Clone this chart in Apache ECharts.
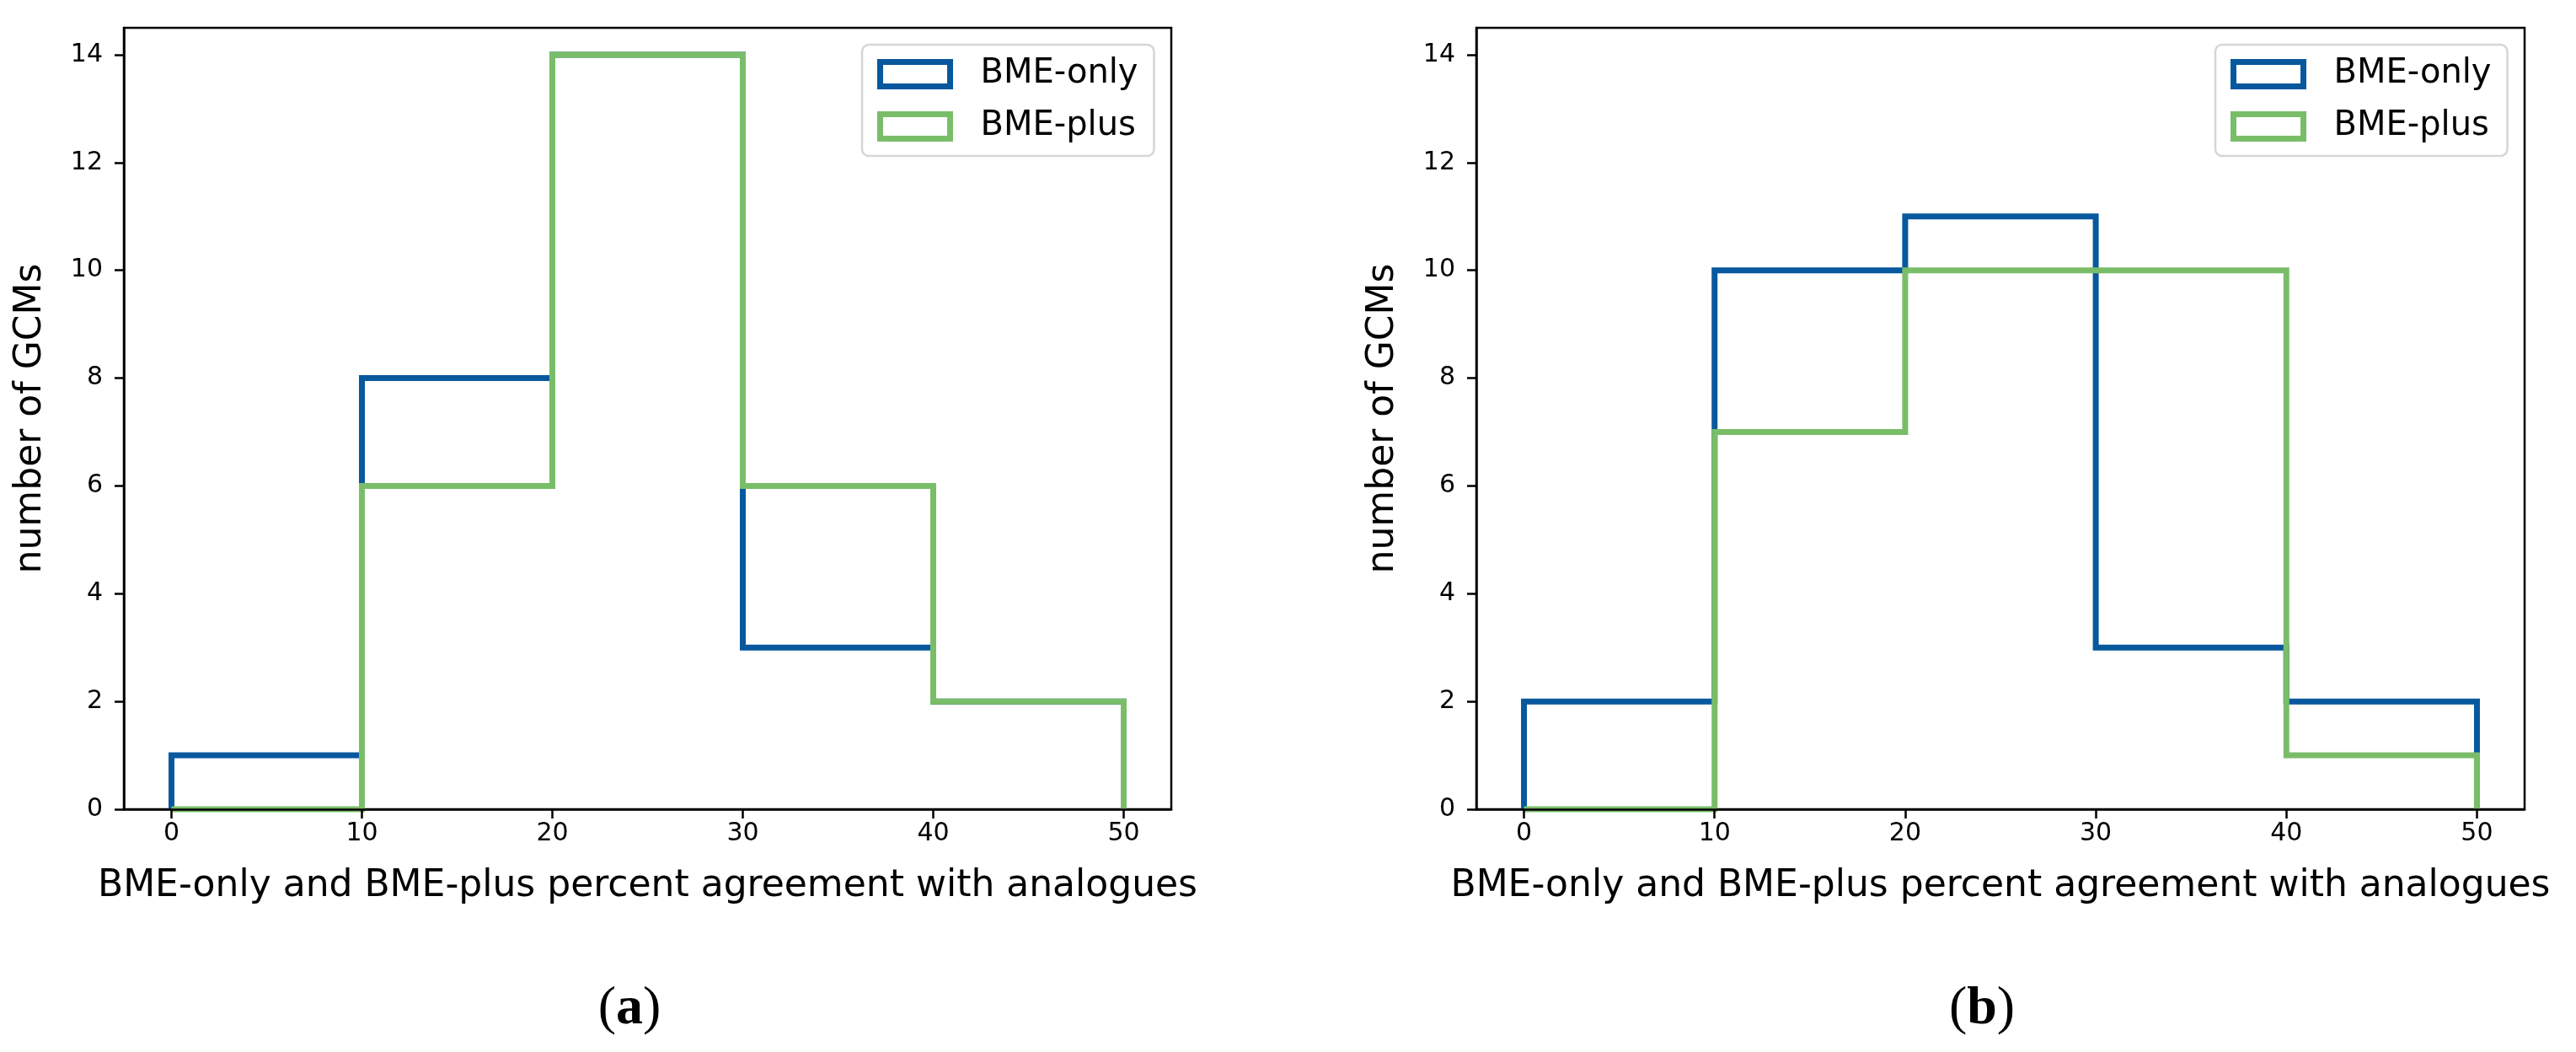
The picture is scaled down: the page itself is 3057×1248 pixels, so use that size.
<!DOCTYPE html>
<html>
<head>
<meta charset="utf-8">
<script src="https://cdn.jsdelivr.net/npm/echarts@6/dist/echarts.min.js"></script>
<style>
html,body{margin:0;padding:0;background:#fff;}
#chart{width:3057px;height:1248px;}
</style>
</head>
<body>
<div id="chart"></div>
<script>
// Histogram bin edges (percent agreement)
const binEdges = [0, 10, 20, 30, 40, 50];
// Panel (a) counts per bin
const aBmeOnly = [1, 8, 14, 3, 2];
const aBmePlus = [0, 6, 14, 6, 2];
// Panel (b) counts per bin
const bBmeOnly = [2, 10, 11, 3, 2];
const bBmePlus = [0, 7, 10, 10, 1];
// Tick labels
const xTicks = [0, 10, 20, 30, 40, 50];
const yTicks = [0, 2, 4, 6, 8, 10, 12, 14];
const seriesNames = ['BME-only', 'BME-plus'];
const panelLabels = ['a', 'b'];

const BLUE = '#08589e';
const GREEN = '#7abd69';
const FONT = 'DejaVu Sans';

// step-histogram outline built from bin edges and counts
function stepOutline(edges, counts) {
  const pts = [[edges[0], 0]];
  for (let i = 0; i < counts.length; i++) {
    pts.push([edges[i], counts[i]]);
    pts.push([edges[i + 1], counts[i]]);
  }
  pts.push([edges[edges.length - 1], 0]);
  return pts;
}

const grids = [
  {left: 147, top: 33, width: 1243, height: 927},
  {left: 1752, top: 33, width: 1244, height: 927}
];

function xAxisFor(i) {
  return {
    type: 'value', gridIndex: i, min: -2.5, max: 52.5, z: 5,
    name: 'BME-only and BME-plus percent agreement with analogues',
    nameLocation: 'middle', nameGap: 70,
    nameTextStyle: {fontFamily: FONT, fontSize: 44, color: '#000'},
    splitLine: {show: false},
    axisLine: {show: true, onZero: false, lineStyle: {color: '#000', width: 2.5}},
    axisTick: {show: true, length: 11, lineStyle: {color: '#000', width: 2.5}, customValues: xTicks},
    axisLabel: {fontFamily: FONT, fontSize: 30, color: '#000', margin: 14, customValues: xTicks}
  };
}
function yAxisFor(i) {
  return {
    type: 'value', gridIndex: i, min: 0, max: 14.5, z: 5,
    name: 'number of GCMs', nameLocation: 'middle', nameGap: 88, nameRotate: 90,
    nameTextStyle: {fontFamily: FONT, fontSize: 44, color: '#000'},
    splitLine: {show: false},
    axisLine: {show: true, onZero: false, lineStyle: {color: '#000', width: 2.5}},
    axisTick: {show: true, length: 11, lineStyle: {color: '#000', width: 2.5}, customValues: yTicks},
    axisLabel: {fontFamily: FONT, fontSize: 30, color: '#000', margin: 25, customValues: yTicks}
  };
}
function legendFor(left) {
  return {
    left: left, top: 53, orient: 'vertical',
    data: seriesNames.map((n, k) => ({
      name: n, icon: 'rect',
      itemStyle: {color: 'rgba(0,0,0,0)', borderColor: k === 0 ? BLUE : GREEN, borderWidth: 7}
    })),
    itemWidth: 83, itemHeight: 29, itemGap: 22,
    padding: [15, 19, 15, 18],
    backgroundColor: '#fff', borderColor: '#d6d6d6', borderWidth: 2.5, borderRadius: 8,
    textStyle: {fontFamily: FONT, fontSize: 40, color: '#000', padding: [0, 0, 0, 31]},
    selectedMode: false
  };
}
function lineSeries(name, color, counts, idx) {
  return {
    type: 'line', name: name, xAxisIndex: idx, yAxisIndex: idx,
    data: stepOutline(binEdges, counts), symbol: 'none', clip: false,
    lineStyle: {color: color, width: 7, join: 'miter', cap: 'butt'},
    itemStyle: {color: color}, animation: false
  };
}

const chart = echarts.init(document.getElementById('chart'), null, {renderer: 'canvas'});
chart.setOption({
  backgroundColor: '#fff',
  animation: false,
  grid: grids.map(g => Object.assign({show: true, borderColor: '#000', borderWidth: 2.5, backgroundColor: 'transparent'}, g)),
  xAxis: [xAxisFor(0), xAxisFor(1)],
  yAxis: [yAxisFor(0), yAxisFor(1)],
  legend: [legendFor(1023), legendFor(2629)],
  series: [
    lineSeries(seriesNames[0], BLUE, aBmeOnly, 0),
    lineSeries(seriesNames[1], GREEN, aBmePlus, 0),
    lineSeries(seriesNames[0], BLUE, bBmeOnly, 1),
    lineSeries(seriesNames[1], GREEN, bBmePlus, 1)
  ],
  graphic: panelLabels.map((p, i) => ({
    type: 'text', x: i === 0 ? 747 : 2352, y: 1197,
    style: {
      text: '{p|(}{b|' + p + '}{p|)}',
      align: 'center', verticalAlign: 'middle',
      rich: {
        p: {fontFamily: 'Liberation Serif', fontSize: 64, fill: '#000'},
        b: {fontFamily: 'Liberation Serif', fontSize: 64, fontWeight: 'bold', fill: '#000'}
      }
    }
  }))
});
</script>
</body>
</html>
